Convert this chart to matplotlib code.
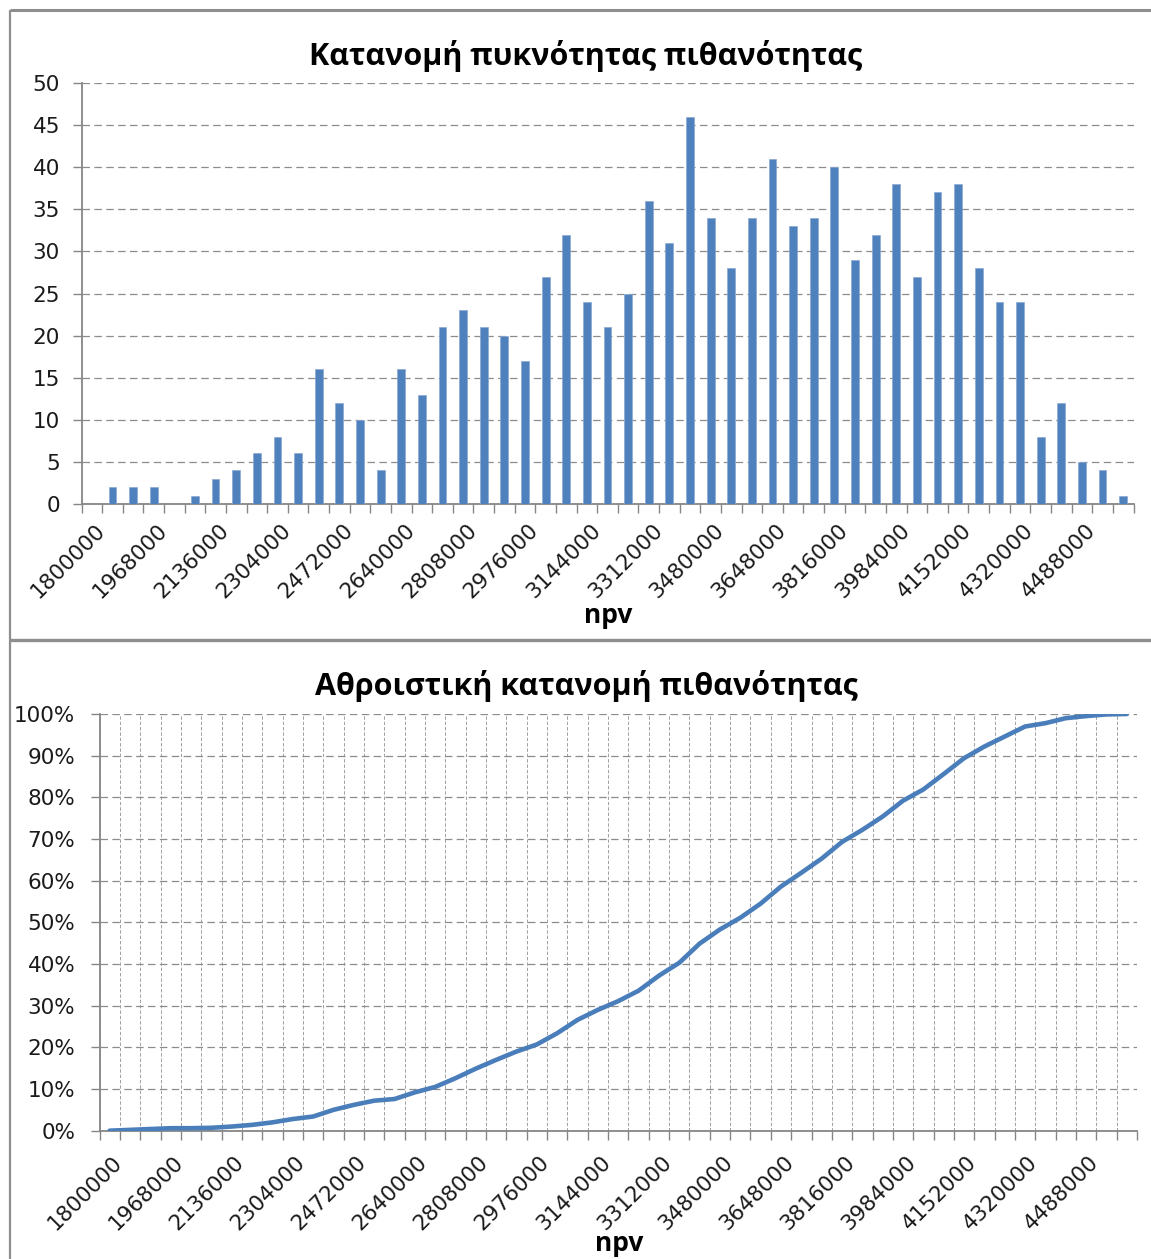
import numpy as np
import matplotlib
matplotlib.use("Agg")
import matplotlib.pyplot as plt
import matplotlib.transforms as mtransforms
from matplotlib.lines import Line2D
from matplotlib.ticker import FixedLocator, FuncFormatter

# ---- data -------------------------------------------------------------
# NPV bin starts (56,000 wide) and simulation counts per bin (1000 runs)
npv_bins = list(range(1800000, 4600001, 56000))
counts = [0, 2, 2, 2, 0, 1, 3, 4, 6, 8,
          6, 16, 12, 10, 4, 16, 13, 21, 23, 21,
          20, 17, 27, 32, 24, 21, 25, 36, 31, 46,
          34, 28, 34, 41, 33, 34, 40, 29, 32, 38,
          27, 37, 38, 28, 24, 24, 8, 12, 5, 4,
          1]
label_step = 3  # every third bin is labelled on the x axis

title_density = "Κατανομή πυκνότητας πιθανότητας"
title_cumulative = "Αθροιστική κατανομή πιθανότητας"
x_title = "npv"

# cumulative share of runs up to and including each bin
cumulative = np.cumsum(counts) / np.sum(counts)

# ---- style ------------------------------------------------------------
W, H, DPI = 1151, 1259, 100
BAR = "#4F81BD"
LINE = "#4A7EBB"
AXIS = "#868686"
GRID = "#8C8C8C"
TEXT = "#1A1A1A"
TICK_FONT = "DejaVu Sans"
TICK_SIZE = 15.5
TITLE_FONT = ["Open Sans", "DejaVu Sans"]

fig = plt.figure(figsize=(W / DPI, H / DPI), dpi=DPI)
fig.patch.set_facecolor("white")


def px_axes(left, top, right, bottom):
    return fig.add_axes([left / W, 1 - bottom / H, (right - left) / W, (bottom - top) / H])


def style_axes(ax, ylabel_pad):
    for side in ("top", "right"):
        ax.spines[side].set_visible(False)
    for side in ("left", "bottom"):
        ax.spines[side].set_color(AXIS)
        ax.spines[side].set_linewidth(1.3)
    ax.tick_params(axis="both", direction="out", length=6.5, width=1.0, color=AXIS)
    ax.tick_params(axis="y", labelsize=TICK_SIZE, labelcolor=TEXT, pad=ylabel_pad)
    ax.tick_params(axis="x", labelbottom=False)
    for lab in ax.get_yticklabels():
        lab.set_family(TICK_FONT)
    ax.set_axisbelow(True)


def x_labels(ax, dx_px, dy_px):
    trans = mtransforms.blended_transform_factory(ax.transData, ax.transAxes) + \
        mtransforms.ScaledTranslation(dx_px / DPI, -dy_px / DPI, fig.dpi_scale_trans)
    for i in range(0, len(npv_bins), label_step):
        ax.text(i, 0, str(npv_bins[i]), transform=trans, rotation=45,
                rotation_mode="anchor", ha="right", va="center_baseline",
                fontsize=TICK_SIZE, family=TICK_FONT, color=TEXT)


n = len(npv_bins)
pos = np.arange(n)
edges = np.arange(n + 1) - 0.5

# ---- density histogram --------------------------------------------------
ax1 = px_axes(81.5, 83, 1133.5, 504)
ax1.bar(pos, counts, width=0.38, color=BAR, edgecolor="#8DA9D4", linewidth=0.5, zorder=3)
ax1.set_xlim(-0.5, n - 0.5)
ax1.set_ylim(0, 50)
ax1.yaxis.set_major_locator(FixedLocator(range(0, 51, 5)))
ax1.xaxis.set_major_locator(FixedLocator(edges))
ax1.grid(axis="y", color=GRID, linestyle=(0, (6, 3.5)), linewidth=0.9)
style_axes(ax1, ylabel_pad=9)
x_labels(ax1, 9, 22)

# ---- cumulative distribution ------------------------------------------
ax2 = px_axes(99.5, 714, 1137, 1130.7)
ax2.plot(pos, cumulative, color=LINE, linewidth=3.3, solid_joinstyle="round",
         solid_capstyle="round", zorder=3)
ax2.set_xlim(-0.5, n - 0.5)
ax2.set_ylim(0, 1)
ax2.yaxis.set_major_locator(FixedLocator(np.linspace(0, 1, 11)))
ax2.yaxis.set_major_formatter(FuncFormatter(lambda v, _: f"{v * 100:.0f}%"))
ax2.xaxis.set_major_locator(FixedLocator(edges))
ax2.grid(axis="y", color=GRID, linestyle=(0, (6, 3.5)), linewidth=0.9)
ax2.grid(axis="x", color="#A0A0A0", linestyle=(0, (3.5, 2)), linewidth=0.7)
style_axes(ax2, ylabel_pad=11)
x_labels(ax2, 8, 27)

# ---- titles and axis names ---------------------------------------------
fig.text(585.5 / W, 1 - 65 / H, title_density, ha="center", va="baseline",
         fontsize=22, fontweight="bold", family=TITLE_FONT, color="black")
fig.text(586 / W, 1 - 695 / H, title_cumulative, ha="center", va="baseline",
         fontsize=22, fontweight="bold", family=TITLE_FONT, color="black")
fig.text(608 / W, 1 - 623 / H, x_title, ha="center", va="baseline",
         fontsize=19, fontweight="bold", family=TITLE_FONT, color="black")
fig.text(619 / W, 1 - 1251 / H, x_title, ha="center", va="baseline",
         fontsize=19, fontweight="bold", family=TITLE_FONT, color="black")

# ---- chart frames --------------------------------------------------------
frame = dict(transform=fig.transFigure, color="#8E8E8E", solid_capstyle="butt")
fig.add_artist(Line2D([10 / W, 1], [1 - 10 / H, 1 - 10 / H], linewidth=2.2, **frame))
fig.add_artist(Line2D([10 / W, 10 / W], [0, 1 - 10 / H], linewidth=1.6, **frame))
fig.add_artist(Line2D([10 / W, 1], [1 - 640 / H, 1 - 640 / H], linewidth=2.4, **frame))

fig.savefig("out.png", dpi=DPI, facecolor="white")
